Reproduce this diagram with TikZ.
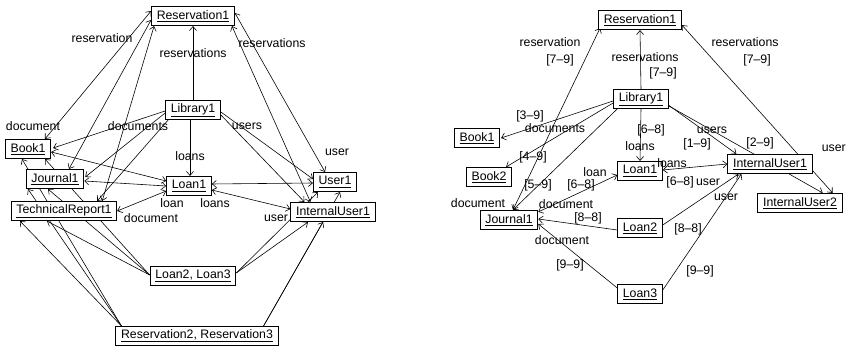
\documentclass[tikz,border=0pt]{standalone}
\usepackage{fontspec}
\setmainfont{Liberation Sans}
\usetikzlibrary{calc, arrows.meta, backgrounds}

\begin{document}
\begin{tikzpicture}[
					x=0.03cm, y=-0.03cm,
					objbox/.style={
						draw,
						rectangle,
						fill=white,
						inner xsep=4.5pt,
						inner ysep=2pt,
						minimum height=16.5pt,
						line width=0.7pt,
						font=\fontsize{10.5}{12}\selectfont
					},
					rolelabel/.style={
						inner sep=0pt,
						font=\fontsize{10.5}{12}\selectfont
					},
					uniarrow/.style={
						-{Straight Barb[length=3.5pt, width=6pt]},
						line width=0.5pt
					},
					biarrow/.style={
						{Straight Barb[length=3.5pt, width=6pt]}-{Straight Barb[length=3.5pt, width=6pt]},
						line width=0.5pt
					}
					]
					\useasboundingbox (0,0) rectangle (848,347);
					
					% Left: object diagram with merged objects
					\node (res1L) [objbox] at (193, 16) {\underline{Reservation1}};
					\node (libL) [objbox] at (193, 110) {\underline{Library1}};
					\node (book1L) [objbox] at (28, 149) {\underline{Book1}};
					\node (jour1L) [objbox] at (55, 179) {\underline{Journal1}};
					\node (techL) [objbox] at (64, 211) {\underline{TechnicalReport1}};
					\node (loan1L) [objbox] at (189, 186) {\underline{Loan1}};
					\node (user1L) [objbox] at (335, 182) {\underline{User1}};
					\node (iuser1L) [objbox] at (333, 212) {\underline{InternalUser1}};
					\node (loansL) [objbox] at (193, 276) {\underline{Loan2, Loan3}};
					\node (ressL) [objbox] at (197, 336) {\underline{Reservation2, Reservation3}};
					
					% Right: object diagram with lifetimes
					\node (res1R) [objbox] at (640, 20) {\underline{Reservation1}};
					\node (libR) [objbox] at (641, 99) {\underline{Library1}};
					\node (book1R) [objbox] at (477, 138) {\underline{Book1}};
					\node (book2R) [objbox] at (489, 177) {\underline{Book2}};
					\node (loan1R) [objbox] at (640, 171) {\underline{Loan1}};
					\node (iuser1R) [objbox] at (770, 164) {\underline{InternalUser1}};
					\node (iuser2R) [objbox] at (800, 203) {\underline{InternalUser2}};
					\node (jour1R) [objbox] at (509, 220) {\underline{Journal1}};
					\node (loan2R) [objbox] at (640, 228) {\underline{Loan2}};
					\node (loan3R) [objbox] at (640, 294) {\underline{Loan3}};
					
					% Links (behind the boxes)
					\begin{pgfonlayer}{background}
					\draw [uniarrow] (libL.north) -- (res1L.south);
					\draw [uniarrow] ($(libL.south)+(-3,0)$) -- ($(loan1L.north)+(1,0)$);
					\draw [uniarrow] ($(libL.west)+(0,1)$) -- ($(book1L.east)+(2,-1)$);
					\draw [uniarrow] ($(libL.west)+(0,3)$) -- ($(jour1L.east)+(1,-2)$);
					\draw [uniarrow] ($(libL.south west)+(3,0)$) -- ($(techL.north east)+(-20,0)$);
					\draw [uniarrow] ($(libL.east)+(0,2)$) -- ($(user1L.west)+(0,-3)$);
					\draw [uniarrow] ($(libL.east)+(0,5)$) -- ($(iuser1L.north west)+(14,0)$);
					\draw [biarrow] ($(res1L.west)+(0,-5)$) -- ($(book1L.north)+(17,0)$);
					\draw [biarrow] ($(res1L.west)+(0,4)$) -- ($(jour1L.north)+(14,0)$);
					\draw [biarrow] ($(res1L.south west)+(3,0)$) -- ($(techL.north east)+(-15,0)$);
					\draw [biarrow] ($(res1L.east)+(0,-3)$) -- ($(user1L.north)+(-10,0)$);
					\draw [biarrow] ($(res1L.south east)+(-3,0)$) -- ($(iuser1L.north west)+(20,0)$);
					\draw [biarrow] ($(book1L.east)+(0,3)$) -- ($(loan1L.west)+(0,-5)$);
					\draw [biarrow] ($(jour1L.east)+(0,2)$) -- ($(loan1L.west)+(0,0)$);
					\draw [biarrow] (techL.east) -- ($(loan1L.west)+(0,5)$);
					\draw [biarrow] ($(loan1L.east)+(0,-2)$) -- ($(user1L.west)+(0,1)$);
					\draw [biarrow] ($(loan1L.east)+(0,4)$) -- ($(iuser1L.west)+(0,-3)$);
					\draw [uniarrow] ($(loansL.west)+(0,-1)$) -- ($(book1L.south)+(17,0)$);
					\draw [uniarrow] ($(loansL.west)+(0,-1)$) -- ($(jour1L.south)+(-7,0)$);
					\draw [uniarrow] ($(loansL.west)+(0,-1)$) -- ($(techL.south)+(-17,0)$);
					\draw [uniarrow] ($(ressL.north west)+(6,0)$) -- ($(book1L.south)+(-6,0)$);
					\draw [uniarrow] ($(ressL.north west)+(6,0)$) -- ($(jour1L.south)+(-27,0)$);
					\draw [uniarrow] ($(ressL.north west)+(6,0)$) -- ($(techL.south)+(-44,0)$);
					\draw [uniarrow] ($(loansL.east)+(0,-3)$) -- ($(user1L.south)+(-17,0)$);
					\draw [uniarrow] ($(loansL.east)+(0,-3)$) -- ($(iuser1L.south)+(-25,0)$);
					\draw [uniarrow] ($(ressL.north east)+(-15,0)$) -- ($(user1L.south)+(5,0)$);
					\draw [uniarrow] ($(ressL.north east)+(-15,0)$) -- ($(iuser1L.south)+(-10,0)$);
					
					\draw [uniarrow] (libR.north) -- (res1R.south);
					\draw [biarrow] ($(jour1R.north)+(4,0)$) -- ($(res1R.south west)+(2,-2)$);
					\draw [biarrow] ($(res1R.south east)+(0,-5)$) -- ($(iuser2R.north east)+(-10,0)$);
					\draw [uniarrow] ($(libR.west)+(0,2)$) -- ($(book1R.east)+(1,0)$);
					\draw [uniarrow] ($(libR.west)+(0,4)$) -- ($(book2R.north east)+(-6,0)$);
					\draw [uniarrow] ($(libR.south west)+(4,0)$) -- ($(jour1R.north)+(4,0)$);
					\draw [uniarrow] (libR.south) -- (loan1R.north);
					\draw [uniarrow] ($(libR.east)+(-2,5)$) -- ($(iuser1R.north west)+(9,0)$);
					\draw [uniarrow] ($(libR.east)+(0,7)$) -- ($(iuser2R.north east)+(-20,0)$);
					\draw [biarrow] ($(jour1R.north east)+(0,2)$) -- ($(loan1R.west)+(0,4)$);
					\draw [biarrow] ($(loan1R.east)+(0,-1)$) -- (iuser1R.west);
					\draw [uniarrow] ($(loan2R.west)+(0,2)$) -- ($(jour1R.east)+(0,-1)$);
					\draw [uniarrow] ($(loan3R.north west)+(0,4)$) -- ($(jour1R.east)+(0,4)$);
					\draw [uniarrow] ($(loan2R.east)+(0,-3)$) -- ($(iuser1R.south west)+(11,0)$);
					\draw [uniarrow] ($(loan3R.east)+(0,-4)$) -- ($(iuser1R.south west)+(14,0)$);
					\end{pgfonlayer}
					
					% Role names, left
					\node (lresA) [rolelabel] at (102, 38) {reservation};
					\node (lresB) [rolelabel] at (193, 53) {reservations};
					\node (lresC) [rolelabel] at (272, 43) {reservations};
					\node (ldocA) [rolelabel] at (33, 126) {document};
					\node (ldocB) [rolelabel] at (138, 126) {documents};
					\node (lusrA) [rolelabel] at (247, 126) {users};
					\node (lusrB) [rolelabel] at (337, 152) {user};
					\node (lloanA) [rolelabel] at (190, 156) {loans};
					\node (lloanB) [rolelabel] at (172, 203) {loan};
					\node (lloanC) [rolelabel] at (215, 203) {loans};
					\node (ldocC) [rolelabel] at (151, 218) {document};
					\node (lusrC) [rolelabel] at (276, 218) {user};
					
					% Role names and lifetimes, right
					\node (rresA) [rolelabel] at (550, 42) {reservation};
					\node (rresAt) [rolelabel] at (560, 60) {[7--9]};
					\node (rresB) [rolelabel] at (645, 57) {reservations};
					\node (rresBt) [rolelabel] at (663, 73) {[7--9]};
					\node (rresC) [rolelabel] at (745, 42) {reservations};
					\node (rresCt) [rolelabel] at (757, 60) {[7--9]};
					\node (rbookAt) [rolelabel] at (530, 116) {[3--9]};
					\node (rdocA) [rolelabel] at (555, 128) {documents};
					\node (rloanAt) [rolelabel] at (651, 130) {[6--8]};
					\node (rloanA) [rolelabel] at (640, 146) {loans};
					\node (rusrA) [rolelabel] at (712, 130) {users};
					\node (rusrAt) [rolelabel] at (697, 144) {[1--9]};
					\node (rusrBt) [rolelabel] at (760, 143) {[2--9]};
					\node (rusrB) [rolelabel, anchor=east] at (846, 148) {user};
					\node (rbookBt) [rolelabel] at (533, 157) {[4--9]};
					\node (rloanB) [rolelabel] at (672, 163) {loans};
					\node (rloanC) [rolelabel] at (595, 172) {loan};
					\node (rloanCt) [rolelabel] at (680, 182) {[6--8]};
					\node (rusrC) [rolelabel] at (708, 182) {user};
					\node (rjourAt) [rolelabel] at (538, 185) {[5--9]};
					\node (rloanDt) [rolelabel] at (581, 185) {[6--8]};
					\node (rusrD) [rolelabel] at (726, 197) {user};
					\node (rdocB) [rolelabel] at (478, 203) {document};
					\node (rdocC) [rolelabel] at (566, 204) {document};
					\node (rjourBt) [rolelabel] at (588, 218) {[8--8]};
					\node (rdocD) [rolelabel] at (562, 240) {document};
					\node (rusrEt) [rolelabel] at (688, 229) {[8--8]};
					\node (rjourCt) [rolelabel] at (570, 265) {[9--9]};
					\node (rusrFt) [rolelabel] at (700, 271) {[9--9]};
					
				\end{tikzpicture}
\end{document}
